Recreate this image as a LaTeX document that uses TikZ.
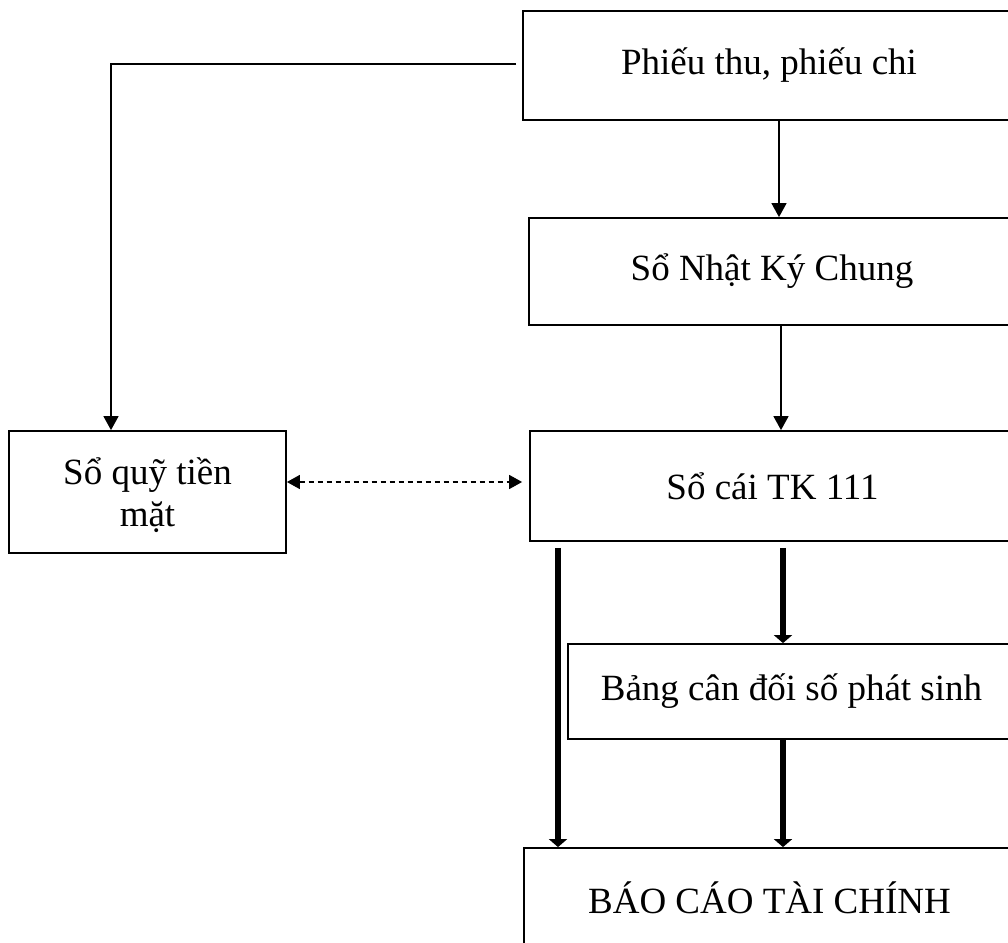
\documentclass[tikz,border=0pt]{standalone}
\usepackage{fontspec}
\setmainfont{Liberation Serif}
\usetikzlibrary{arrows.meta}
\begin{document}
\begin{tikzpicture}[x=1pt,y=-1pt,
  box/.style={draw,line width=1.8pt,inner sep=0pt,align=center,font=\fontsize{37}{42}\selectfont},
  txt/.style={inner sep=0pt,align=center,font=\fontsize{37}{42}\selectfont},
  thin/.style={line width=1.5pt,-{Triangle[length=14pt,width=15pt]}},
  heavy/.style={line width=6pt,-{Triangle[length=8pt,width=18pt]}},
  dash2/.style={line width=1.5pt,dash pattern=on 5pt off 4pt,{Triangle[length=13pt,width=14pt]}-{Triangle[length=13pt,width=14pt]}}]
\useasboundingbox (0,0) rectangle (1008,942);
\clip (0,0) rectangle (1008,942);
\node[box,minimum width=492pt,minimum height=109pt] (p) at (769,65.5) {Phiếu thu, phiếu chi};
\node[box,minimum width=486pt,minimum height=107pt] (n) at (772,271.5) {Sổ Nhật Ký Chung};
\node[box,minimum width=485pt,minimum height=110pt] (c) at (772.5,486) {Sổ cái TK 111};
\node[box,minimum width=447pt,minimum height=95pt] (b) at (791.5,691.5) {Bảng cân đối số phát sinh};
\node[box,minimum width=491pt,minimum height=100pt] (r) at (769.5,898) {BÁO CÁO TÀI CHÍNH};
\node[box,minimum width=277pt,minimum height=122pt] (q) at (147.5,492) {};
\node[txt] (qt) at ([yshift=-3pt]q.center) {Sổ quỹ tiền\\mặt};
\coordinate (xa) at (779,0);
\coordinate (xb) at (781,0);
\coordinate (xl) at (558,0);
\coordinate (xm) at (783,0);
\coordinate (xq) at (111,0);
\draw[line width=1.5pt,-{Triangle[length=14pt,width=15pt]},shorten <=6pt] (p.west |- 0,64) -| (q.north -| xq);
\draw[thin] (p.south -| xa) -- (n.north -| xa);
\draw[thin] (n.south -| xb) -- (c.north -| xb);
\draw[dash2] (q.east |- 0,482) -- ([xshift=-7pt]c.west |- 0,482);
\draw[heavy,shorten <=6pt] (c.south -| xl) -- (r.north -| xl);
\draw[heavy,shorten <=6pt] (c.south -| xm) -- (b.north -| xm);
\draw[heavy] (b.south -| xm) -- (r.north -| xm);
\end{tikzpicture}
\end{document}
